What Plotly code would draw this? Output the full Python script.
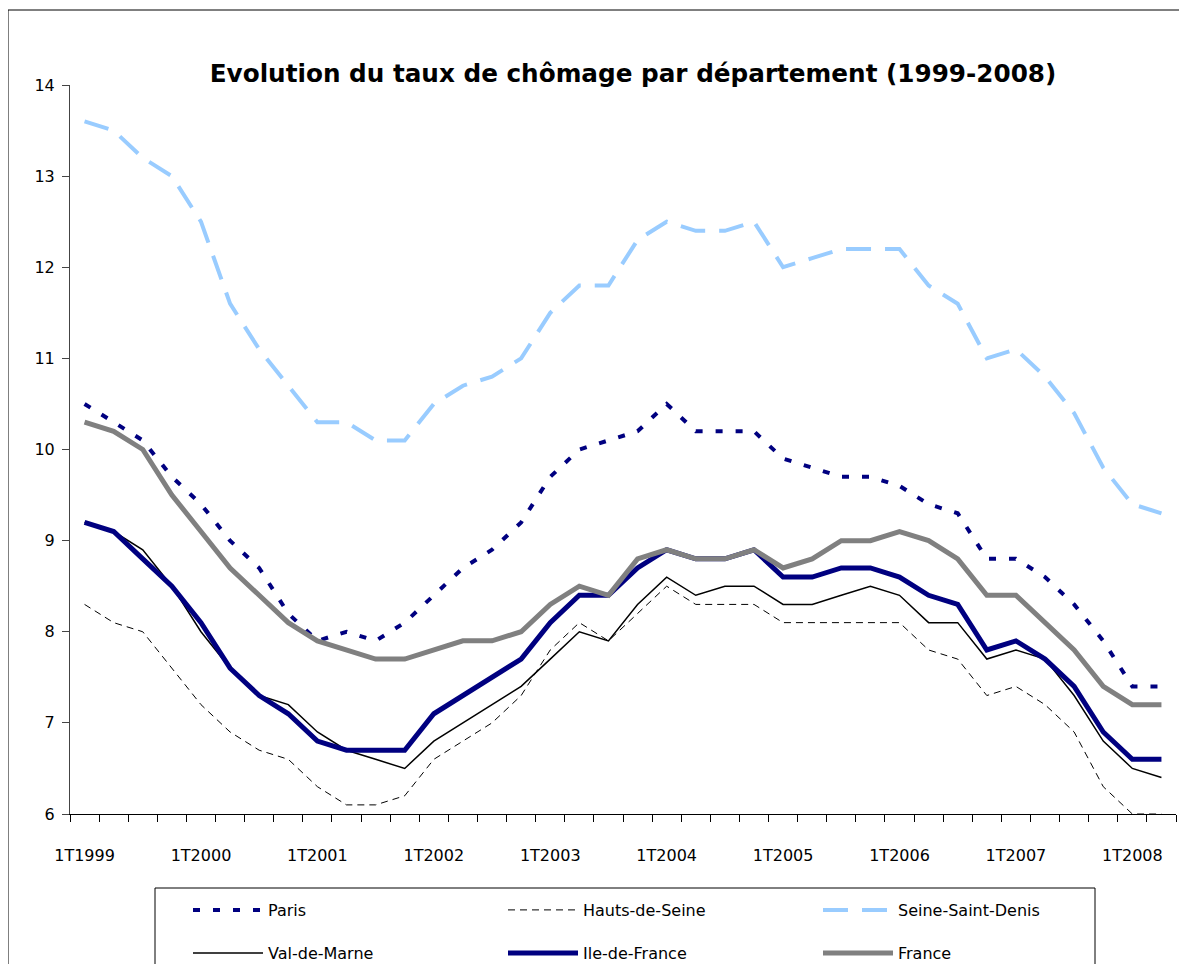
import plotly.graph_objects as go

quarters = [f"{q}T{y}" for y in range(1999, 2009) for q in range(1, 5)][:38]

paris = [10.5, 10.3, 10.1, 9.7, 9.4, 9.0, 8.7, 8.2, 7.9, 8.0, 7.9, 8.1,
         8.4, 8.7, 8.9, 9.2, 9.7, 10.0, 10.1, 10.2, 10.5, 10.2, 10.2, 10.2,
         9.9, 9.8, 9.7, 9.7, 9.6, 9.4, 9.3, 8.8, 8.8, 8.6, 8.3, 7.9, 7.4, 7.4]
hauts_de_seine = [8.3, 8.1, 8.0, 7.6, 7.2, 6.9, 6.7, 6.6, 6.3, 6.1, 6.1, 6.2,
                  6.6, 6.8, 7.0, 7.3, 7.8, 8.1, 7.9, 8.2, 8.5, 8.3, 8.3, 8.3,
                  8.1, 8.1, 8.1, 8.1, 8.1, 7.8, 7.7, 7.3, 7.4, 7.2, 6.9, 6.3, 6.0, 6.0]
seine_saint_denis = [13.6, 13.5, 13.2, 13.0, 12.5, 11.6, 11.1, 10.7, 10.3, 10.3, 10.1, 10.1,
                     10.5, 10.7, 10.8, 11.0, 11.5, 11.8, 11.8, 12.3, 12.5, 12.4, 12.4, 12.5,
                     12.0, 12.1, 12.2, 12.2, 12.2, 11.8, 11.6, 11.0, 11.1, 10.8, 10.4, 9.8, 9.4, 9.3]
val_de_marne = [9.2, 9.1, 8.9, 8.5, 8.0, 7.6, 7.3, 7.2, 6.9, 6.7, 6.6, 6.5,
                6.8, 7.0, 7.2, 7.4, 7.7, 8.0, 7.9, 8.3, 8.6, 8.4, 8.5, 8.5,
                8.3, 8.3, 8.4, 8.5, 8.4, 8.1, 8.1, 7.7, 7.8, 7.7, 7.3, 6.8, 6.5, 6.4]
ile_de_france = [9.2, 9.1, 8.8, 8.5, 8.1, 7.6, 7.3, 7.1, 6.8, 6.7, 6.7, 6.7,
                 7.1, 7.3, 7.5, 7.7, 8.1, 8.4, 8.4, 8.7, 8.9, 8.8, 8.8, 8.9,
                 8.6, 8.6, 8.7, 8.7, 8.6, 8.4, 8.3, 7.8, 7.9, 7.7, 7.4, 6.9, 6.6, 6.6]
france = [10.3, 10.2, 10.0, 9.5, 9.1, 8.7, 8.4, 8.1, 7.9, 7.8, 7.7, 7.7,
          7.8, 7.9, 7.9, 8.0, 8.3, 8.5, 8.4, 8.8, 8.9, 8.8, 8.8, 8.9,
          8.7, 8.8, 9.0, 9.0, 9.1, 9.0, 8.8, 8.4, 8.4, 8.1, 7.8, 7.4, 7.2, 7.2]

x = list(range(len(quarters)))
label_idx = x[::4]
label_txt = [quarters[i] for i in label_idx]

OFF = 8  # page body margin
W, H = 1187 - 2 * OFF, 972 - 2 * OFF
L, T = 62, 77
pw, ph = 1106, 729
R, B = W - L - pw, H - T - ph


def px_x(p):
    return (p - OFF - L) / pw


def px_y(p):
    return (T + ph - (p - OFF)) / ph


fig = go.Figure()

series = [
    ("Paris", paris, dict(color="#000080", width=4, dash="7px,13px"), "legend"),
    ("Hauts-de-Seine", hauts_de_seine, dict(color="#000000", width=1, dash="7px,5px"), "legend"),
    ("Seine-Saint-Denis", seine_saint_denis, dict(color="#99CCFF", width=4, dash="25px,14px"), "legend"),
    ("Val-de-Marne", val_de_marne, dict(color="#000000", width=1.5), "legend2"),
    ("Ile-de-France", ile_de_france, dict(color="#000080", width=5), "legend2"),
    ("France", france, dict(color="#808080", width=5), "legend2"),
]
for name, vals, line, leg in series:
    fig.add_trace(go.Scatter(x=x, y=vals, name=name, mode="lines", line=line,
                             legend=leg, hoverinfo="skip"))

font = dict(family="DejaVu Sans", size=16, color="#000000")
legcommon = dict(orientation="h", xanchor="left", yanchor="middle",
                 itemwidth=70, entrywidth=230, entrywidthmode="pixels",
                 bgcolor="rgba(0,0,0,0)", borderwidth=0, font=font,
                 traceorder="normal")

page_bottom = OFF + H  # last visible page row of the figure
right_edge = OFF + W
frame_path = (f"M {px_x(8)},{px_y(page_bottom)} L {px_x(8)},{px_y(10)} "
              f"L {px_x(right_edge)},{px_y(10)}")
legend_box = (f"M {px_x(155)},{px_y(page_bottom)} L {px_x(155)},{px_y(888)} "
              f"L {px_x(1095)},{px_y(888)} L {px_x(1095)},{px_y(page_bottom)}")

fig.update_layout(
    width=W, height=H,
    margin=dict(l=L, r=R, t=T, b=B, autoexpand=False),
    paper_bgcolor="white", plot_bgcolor="white",
    font=font,
    title=dict(text="<b>Evolution du taux de chômage par département (1999-2008)</b>",
               font=dict(family="DejaVu Sans", size=24.7, color="#000000"),
               xref="paper", x=px_x(633), xanchor="center",
               yref="container", y=1 - (73 - OFF) / H, yanchor="middle"),
    xaxis=dict(range=[-0.5, len(x) - 0.5], tickmode="array", tickvals=label_idx,
               ticktext=label_txt, ticks="", showgrid=False, zeroline=False,
               showline=True, linecolor="#000000", linewidth=1,
               ticklabelstandoff=27, tickfont=font,
               minor=dict(tickmode="linear", tick0=-0.5, dtick=1, ticks="outside",
                          ticklen=7, tickcolor="#000000", showgrid=False)),
    yaxis=dict(range=[6, 14], dtick=1, ticks="outside", ticklen=7, tickcolor="#444444",
               showgrid=False, zeroline=False, showline=True, linecolor="#444444",
               linewidth=1, tickfont=font, ticklabelstandoff=4),
    legend=dict(x=px_x(188), y=px_y(910), **legcommon),
    legend2=dict(x=px_x(188), y=px_y(953), **legcommon),
    shapes=[
        dict(type="path", xref="paper", yref="paper", path=frame_path,
             line=dict(color="#000000", width=1)),
        dict(type="path", xref="paper", yref="paper", path=legend_box,
             line=dict(color="#000000", width=1)),
    ],
)

fig.write_html("out.html")
